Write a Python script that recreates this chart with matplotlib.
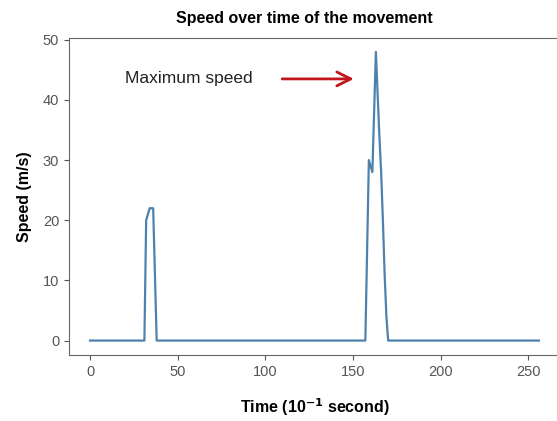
import numpy as np
import matplotlib
matplotlib.use("Agg")
import matplotlib.pyplot as plt

# time steps (1/10 s) and the non-zero speed readings around the two bursts
n_steps = 257
burst1_t = [31, 32, 33, 34, 35, 36, 37, 38]
burst1_v = [0, 20, 21, 22, 22, 22, 11, 0]
burst2_t = [157, 158, 159, 160, 161, 162, 163, 164, 165, 166, 167, 168, 169, 170]
burst2_v = [0, 15, 30, 29, 28, 38, 48, 41, 34, 28, 20, 11, 4, 0]

time = np.arange(n_steps)
speed = np.zeros(n_steps)
speed[burst1_t] = burst1_v
speed[burst2_t] = burst2_v

plt.rcParams['font.family'] = ['Liberation Sans', 'DejaVu Sans']

fig = plt.figure(figsize=(5.57, 4.21), dpi=100)
ax = fig.add_axes([69/557, 66/421, 491/557, 317/421])

ax.plot(time, speed, color='#4f81ad', linewidth=1.6)

ax.set_xlim(-12, 268)
ax.set_ylim(-2.4, 50.3)
ax.set_xticks([0, 50, 100, 150, 200, 250])
ax.set_yticks([0, 10, 20, 30, 40, 50])

for s in ax.spines.values():
    s.set_color('#666666')
ax.tick_params(colors='#555555', labelcolor='#555555', labelsize=10.5)

ax.set_title('Speed over time of the movement', fontsize=11.5, fontweight='bold',
             pad=11, x=0.479)
ax.set_ylabel('Speed (m/s)', fontsize=11.5, fontweight='bold', labelpad=8)
ax.set_xlabel(r'Time (10$^{\mathbf{-1}}$ second)', fontsize=11.5, fontweight='bold', labelpad=13)

# annotation pointing at the peak
ax.text(20, 43.5, 'Maximum speed', fontsize=12.5, va='center', ha='left', color='#222222')
ax.annotate('', xy=(152, 43.5), xytext=(108, 43.5),
            arrowprops=dict(arrowstyle='->,head_width=0.5,head_length=1.0',
                            color='#c0161c', lw=2))

fig.savefig('out.png', dpi=100)
